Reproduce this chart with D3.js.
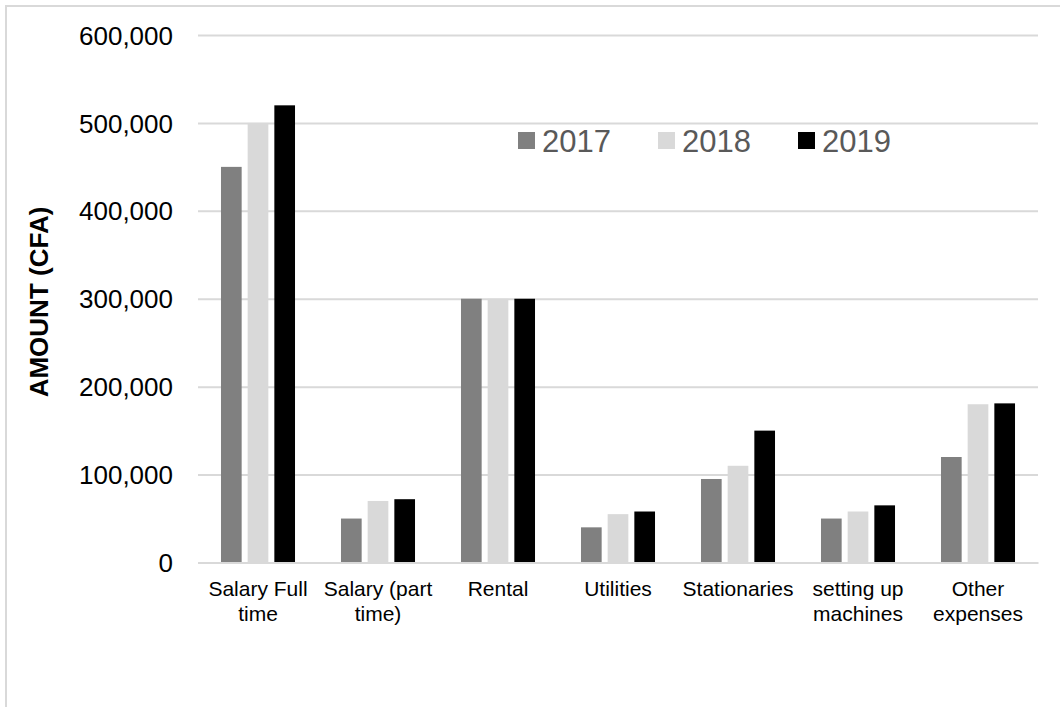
<!DOCTYPE html>
<html>
<head>
<meta charset="utf-8">
<script src="https://cdn.jsdelivr.net/npm/d3@7"></script>
<style>
  html, body { margin: 0; padding: 0; background: #fff; }
  svg { display: block; font-family: "Liberation Sans", Arial, sans-serif; }
</style>
</head>
<body>
<svg id="chart" width="1060" height="707"></svg>
<script>
const categories = ["Salary Full\ntime", "Salary (part\ntime)", "Rental", "Utilities", "Stationaries", "setting up\nmachines", "Other\nexpenses"];
const seriesNames = ["2017", "2018", "2019"];
const values2017 = [450000, 50000, 300000, 40000, 95000, 50000, 120000];
const values2018 = [500000, 70000, 300000, 55000, 110000, 58000, 180000];
const values2019 = [520000, 72000, 300000, 58000, 150000, 65000, 181000];
const yTicks = [0, 100000, 200000, 300000, 400000, 500000, 600000];
const colors = ["#808080", "#d9d9d9", "#000000"];
const yTitle = "AMOUNT (CFA)";

const series = [values2017, values2018, values2019];
const svg = d3.select("#chart");

// outer chart border (top and left visible)
svg.append("rect").attr("x", 6).attr("y", 6).attr("width", 1070).attr("height", 720)
  .attr("fill", "none").attr("stroke", "#d9d9d9").attr("stroke-width", 2);

const x = d3.scaleBand().domain(categories).range([198, 1038]).paddingInner(0.383).paddingOuter(0.1915);
const xs = d3.scaleBand().domain(seriesNames).range([0, x.bandwidth()]).paddingInner(0.225).paddingOuter(0);
const y = d3.scaleLinear().domain([0, 600000]).range([562.5, 35]);

// gridlines
const yAxis = d3.axisLeft(y).tickValues(yTicks).tickSize(-(1038 - 198)).tickPadding(25)
  .tickFormat(d3.format(","));
const gy = svg.append("g").attr("transform", "translate(198,0)").call(yAxis);
gy.select(".domain").remove();
gy.selectAll(".tick line").attr("stroke", "#d9d9d9").attr("stroke-width", 2);
gy.selectAll(".tick text").attr("font-size", 26).attr("fill", "#000")
  .attr("font-family", "'Liberation Sans', Arial, sans-serif").attr("dy", "0.35em");

// bars
const groups = svg.append("g").selectAll("g").data(categories).join("g")
  .attr("transform", d => `translate(${x(d)},0)`);
groups.selectAll("rect").data((d, i) => seriesNames.map((s, j) => ({ s, v: series[j][i], j })))
  .join("rect")
  .attr("x", d => xs(d.s))
  .attr("width", xs.bandwidth())
  .attr("y", d => y(d.v))
  .attr("height", d => y(0) - y(d.v))
  .attr("fill", d => colors[d.j]);

// x axis baseline
const xAxis = d3.axisBottom(x).tickSize(0).tickFormat("");
const gx = svg.append("g").attr("transform", `translate(0,${y(0)})`).call(xAxis);
gx.select(".domain").attr("stroke", "#d9d9d9").attr("stroke-width", 2);

// category labels
const lbl = svg.append("g").selectAll("text").data(categories).join("text")
  .attr("text-anchor", "middle").attr("font-size", 21).attr("fill", "#000")
  .attr("transform", d => `translate(${x(d) + x.bandwidth() / 2},596)`);
lbl.selectAll("tspan").data(d => d.split("\n")).join("tspan")
  .attr("x", 0).attr("y", (d, i) => i * 24.5).text(d => d);

// y title
svg.append("text").attr("transform", "translate(48,302) rotate(-90)")
  .attr("text-anchor", "middle").attr("font-size", 26).attr("font-weight", "bold")
  .attr("fill", "#000").text(yTitle);

// legend
const legend = svg.append("g").selectAll("g").data(seriesNames).join("g")
  .attr("transform", (d, i) => `translate(${518 + i * 140},0)`);
legend.append("rect").attr("x", 0).attr("y", 132).attr("width", 17).attr("height", 17)
  .attr("fill", (d, i) => colors[i]);
legend.append("text").attr("x", 24).attr("y", 152).attr("font-size", 31)
  .attr("fill", "#595959").text(d => d);
</script>
</body>
</html>
